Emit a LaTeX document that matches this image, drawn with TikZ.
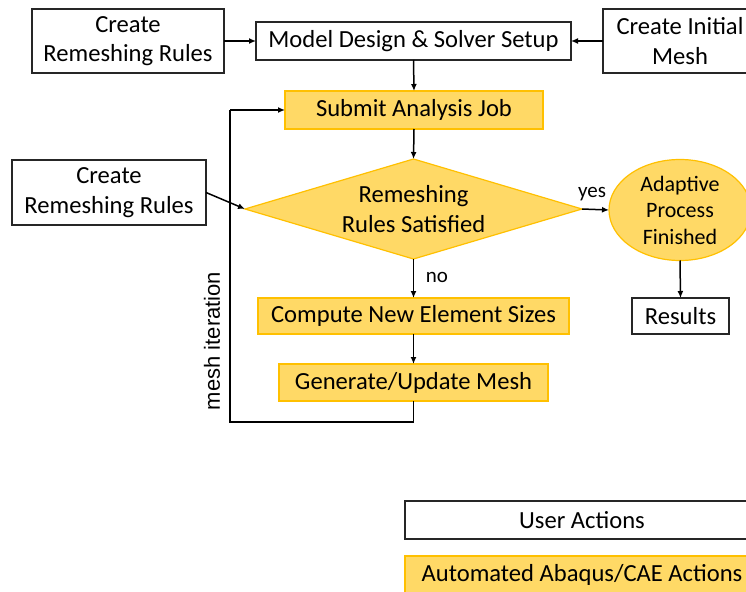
\documentclass[tikz,border=0pt]{standalone}
\usepackage{fontspec}
\setmainfont{Carlito}
\newfontfamily\arialfont{Liberation Sans}
\usetikzlibrary{shapes.geometric,arrows.meta}

\definecolor{autofill}{HTML}{FFD966}
\definecolor{autoline}{HTML}{FFC000}
\definecolor{boxline}{HTML}{262626}

\tikzset{
  every node/.style={inner sep=0pt, outer sep=0pt, align=center,
    font=\fontsize{24.6}{29.6}\selectfont},
  userbox/.style={draw=boxline, line width=1.2pt, fill=white, rectangle},
  autobox/.style={draw=autoline, line width=1.2pt, fill=autofill, rectangle},
  arr/.style={draw=black, line width=1.5pt, -{Latex[length=7pt,width=6pt]}},
  loopline/.style={draw=black, line width=1.8pt},
  smalllbl/.style={font=\fontsize{21}{25}\selectfont},
}

\begin{document}
\begin{tikzpicture}[x=1pt,y=-1pt]
  \useasboundingbox (0,0) rectangle (746,591);
  \clip (0,0) rectangle (746,591);

  % user inputs and setup
  \node[userbox, minimum width=192, minimum height=64] (rules1) at (128,41) {Create\\Remeshing Rules};
  \node[userbox, minimum width=315, minimum height=38] (model) at (413.5,41) {Model Design \& Solver Setup};
  \node[userbox, minimum width=154, minimum height=64] (initmesh) at (680,41) {Create Initial\\Mesh};

  % automated analysis loop
  \node[autobox, minimum width=258, minimum height=38] (submit) at (414,110) {Submit Analysis Job};
  \node[userbox, minimum width=194, minimum height=65] (rules2) at (109,192.5) {Create\\Remeshing Rules};
  \node[diamond, draw=autoline, line width=1.2pt, fill=autofill,
        minimum width=337, minimum height=100] (check) at (413.5,209) {};
  \node at (check) {Remeshing\\Rules Satisfied};
  \node[ellipse, draw=autoline, line width=1.2pt, fill=autofill,
        minimum width=142, minimum height=101] (done) at (680,210) {};
  \node[font=\fontsize{22}{26.5}\selectfont] at (done) {Adaptive\\Process\\Finished};
  \node[autobox, minimum width=311, minimum height=36] (sizes) at (413.5,316) {Compute New Element Sizes};
  \node[autobox, minimum width=269, minimum height=37] (genmesh) at (413.5,382.5) {Generate/Update Mesh};
  \node[userbox, minimum width=97, minimum height=36] (results) at (680.5,316) {Results};

  % connectors
  \draw[arr] (rules1.east) -- (model.west);
  \draw[arr] (initmesh.west) -- (model.east);
  \draw[arr] (model.south) -- (submit.north);
  \draw[arr] (submit.south) -- (check.north);
  \draw[arr] (rules2.east) -- (check.west);
  \draw[arr] (check.east) -- (done.west);
  \draw[arr] (check.south) -- (sizes.north);
  \draw[arr] (sizes.south) -- (genmesh.north);
  \draw[arr] (done.south) -- (results.north);

  \coordinate (loopbot) at (230,422);
  \coordinate (looptop) at (230,110);
  \draw[loopline] (genmesh.south) -- (genmesh.south |- loopbot) -- (loopbot) -- (looptop);
  \draw[arr] (looptop) -- (submit.west);

  % branch labels
  \node[smalllbl] (yes) at (592,194) {yes};
  \node[smalllbl] (no) at (437,277) {no};
  \node[rotate=90, font=\arialfont\fontsize{22}{26}\selectfont] (iter) at (212,341) {mesh iteration};

  % legend
  \node[userbox, minimum width=354, minimum height=38] (leguser) at (582,520) {User Actions};
  \node[autobox, minimum width=354, minimum height=38] (legauto) at (582,575) {Automated Abaqus/CAE Actions};
\end{tikzpicture}
\end{document}
